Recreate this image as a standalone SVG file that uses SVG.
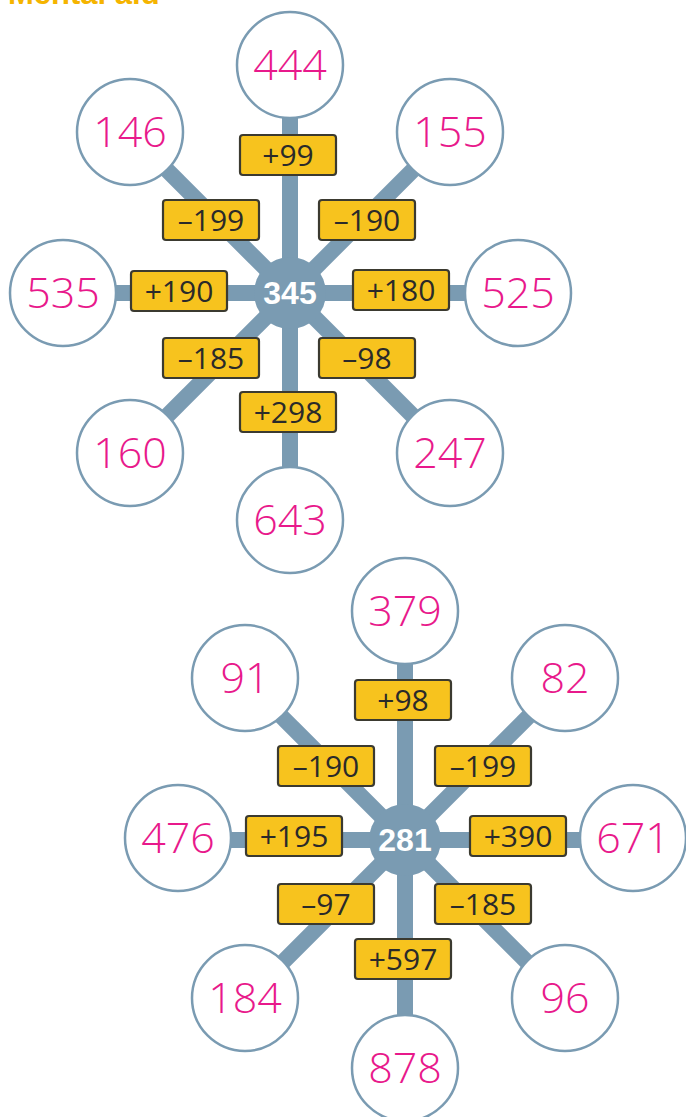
<svg xmlns="http://www.w3.org/2000/svg" width="686" height="1117" viewBox="0 0 686 1117">
<style>
.sp{stroke:#7a9bb2;stroke-width:16;fill:none}
.oc{fill:#fff;stroke:#7a9bb2;stroke-width:2.5}
.hub{fill:#7a9bb2}
.ht{fill:#fff;font-family:"Liberation Sans",Arial,sans-serif;font-weight:bold;font-size:32px;text-anchor:middle}
.nt{fill:#e8198b;font-family:"Open Sans","DejaVu Sans",sans-serif;font-weight:300;font-size:43px;text-anchor:middle}
.bx{fill:#f7c31e;stroke:#3b3a30;stroke-width:2.2}
.bt{fill:#2a2a2a;font-family:"Open Sans","Liberation Sans",Arial,sans-serif;font-size:30px;text-anchor:middle}
.ti{fill:#f5b400;font-family:"Liberation Sans",Arial,sans-serif;font-weight:bold;font-size:31px}
</style>
<text class="ti" x="8" y="4">Mental aid</text>

<!-- Diagram 1 -->
<g transform="translate(290,293)">
<g id="connectors1">
<line class="sp" x1="0" y1="0" x2="0" y2="-228"/>
<line class="sp" x1="0" y1="0" x2="0" y2="228"/>
<line class="sp" x1="0" y1="0" x2="-227" y2="0"/>
<line class="sp" x1="0" y1="0" x2="227" y2="0"/>
<line class="sp" x1="0" y1="0" x2="-160" y2="-160"/>
<line class="sp" x1="0" y1="0" x2="160" y2="-160"/>
<line class="sp" x1="0" y1="0" x2="-160" y2="160"/>
<line class="sp" x1="0" y1="0" x2="160" y2="160"/>
</g>
<g id="hub1"><circle class="hub" cx="0" cy="0" r="36"/><text class="ht" x="0" y="11">345</text></g>
<g id="n444"><circle class="oc" cx="0" cy="-228" r="53"/><text class="nt" x="0" y="-213">444</text></g>
<g id="n146"><circle class="oc" cx="-160" cy="-161" r="53"/><text class="nt" x="-160" y="-146">146</text></g>
<g id="n155"><circle class="oc" cx="160" cy="-161" r="53"/><text class="nt" x="160" y="-146">155</text></g>
<g id="n535"><circle class="oc" cx="-227" cy="0" r="53"/><text class="nt" x="-227" y="15">535</text></g>
<g id="n525"><circle class="oc" cx="228" cy="0" r="53"/><text class="nt" x="228" y="15">525</text></g>
<g id="n160"><circle class="oc" cx="-160" cy="160" r="53"/><text class="nt" x="-160" y="175">160</text></g>
<g id="n247"><circle class="oc" cx="160" cy="160" r="53"/><text class="nt" x="160" y="175">247</text></g>
<g id="n643"><circle class="oc" cx="0" cy="227" r="53"/><text class="nt" x="0" y="242">643</text></g>
<g id="l1a"><rect class="bx" x="-50" y="-158" width="96" height="40" rx="3"/><text class="bt" x="-2" y="-127">+99</text></g>
<g id="l1b"><rect class="bx" x="-127" y="-93" width="96" height="40" rx="3"/><text class="bt" x="-79" y="-62">–199</text></g>
<g id="l1c"><rect class="bx" x="29" y="-93" width="96" height="40" rx="3"/><text class="bt" x="77" y="-62">–190</text></g>
<g id="l1d"><rect class="bx" x="-159" y="-22" width="96" height="40" rx="3"/><text class="bt" x="-111" y="9">+190</text></g>
<g id="l1e"><rect class="bx" x="63" y="-23" width="96" height="40" rx="3"/><text class="bt" x="111" y="8">+180</text></g>
<g id="l1f"><rect class="bx" x="-127" y="45" width="96" height="40" rx="3"/><text class="bt" x="-79" y="76">–185</text></g>
<g id="l1g"><rect class="bx" x="29" y="45" width="96" height="40" rx="3"/><text class="bt" x="77" y="76">–98</text></g>
<g id="l1h"><rect class="bx" x="-50" y="99" width="96" height="40" rx="3"/><text class="bt" x="-2" y="130">+298</text></g>
</g>

<!-- Diagram 2 -->
<g transform="translate(405,840)">
<g id="connectors2">
<line class="sp" x1="0" y1="0" x2="0" y2="-228"/>
<line class="sp" x1="0" y1="0" x2="0" y2="228"/>
<line class="sp" x1="0" y1="0" x2="-227" y2="0"/>
<line class="sp" x1="0" y1="0" x2="227" y2="0"/>
<line class="sp" x1="0" y1="0" x2="-160" y2="-160"/>
<line class="sp" x1="0" y1="0" x2="160" y2="-160"/>
<line class="sp" x1="0" y1="0" x2="-160" y2="160"/>
<line class="sp" x1="0" y1="0" x2="160" y2="160"/>
</g>
<g id="hub2"><circle class="hub" cx="0" cy="0" r="36"/><text class="ht" x="0" y="11">281</text></g>
<g id="n379"><circle class="oc" cx="0" cy="-229" r="53"/><text class="nt" x="0" y="-214">379</text></g>
<g id="n91"><circle class="oc" cx="-160" cy="-162" r="53"/><text class="nt" x="-160" y="-147">91</text></g>
<g id="n82"><circle class="oc" cx="160" cy="-162" r="53"/><text class="nt" x="160" y="-147">82</text></g>
<g id="n476"><circle class="oc" cx="-227" cy="-2" r="53"/><text class="nt" x="-227" y="13">476</text></g>
<g id="n671"><circle class="oc" cx="228" cy="-2" r="53"/><text class="nt" x="228" y="13">671</text></g>
<g id="n184"><circle class="oc" cx="-160" cy="158" r="53"/><text class="nt" x="-160" y="173">184</text></g>
<g id="n96"><circle class="oc" cx="160" cy="158" r="53"/><text class="nt" x="160" y="173">96</text></g>
<g id="n878"><circle class="oc" cx="0" cy="228" r="53"/><text class="nt" x="0" y="243">878</text></g>
<g id="l2a"><rect class="bx" x="-50" y="-160" width="96" height="40" rx="3"/><text class="bt" x="-2" y="-129">+98</text></g>
<g id="l2b"><rect class="bx" x="-127" y="-94" width="96" height="40" rx="3"/><text class="bt" x="-79" y="-63">–190</text></g>
<g id="l2c"><rect class="bx" x="30" y="-94" width="96" height="40" rx="3"/><text class="bt" x="78" y="-63">–199</text></g>
<g id="l2d"><rect class="bx" x="-159" y="-24" width="96" height="40" rx="3"/><text class="bt" x="-111" y="7">+195</text></g>
<g id="l2e"><rect class="bx" x="65" y="-24" width="96" height="40" rx="3"/><text class="bt" x="113" y="7">+390</text></g>
<g id="l2f"><rect class="bx" x="-127" y="44" width="96" height="40" rx="3"/><text class="bt" x="-79" y="75">–97</text></g>
<g id="l2g"><rect class="bx" x="30" y="44" width="96" height="40" rx="3"/><text class="bt" x="78" y="75">–185</text></g>
<g id="l2h"><rect class="bx" x="-50" y="99" width="96" height="40" rx="3"/><text class="bt" x="-2" y="130">+597</text></g>
</g>
</svg>
